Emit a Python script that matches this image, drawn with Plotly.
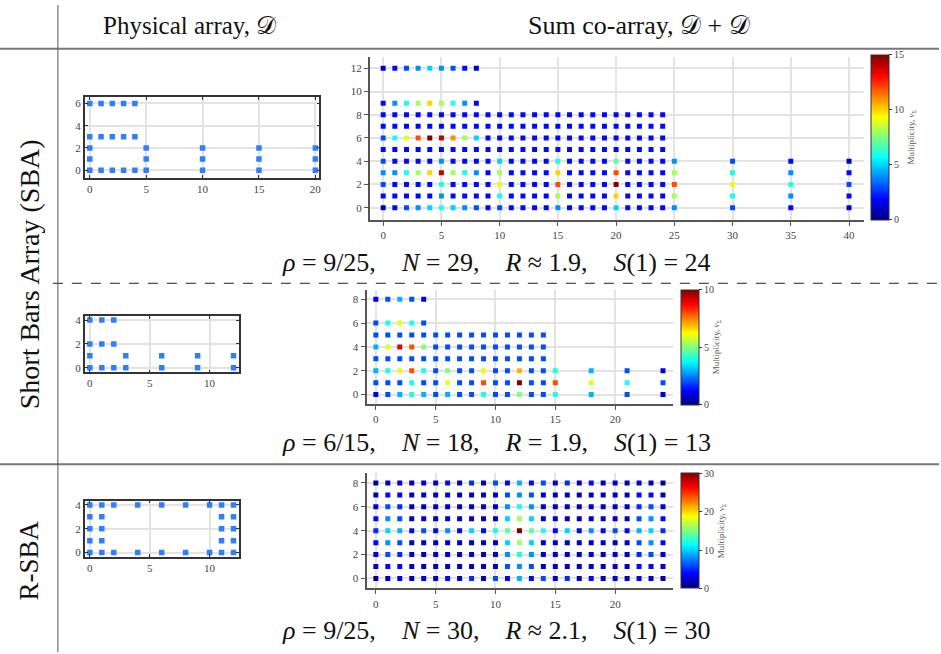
import plotly.graph_objects as go

W, H = 941, 654

# ---------------- Physical arrays (row y -> x positions) ----------------
SBA_PHYS = {0: [0, 1, 2, 3, 4, 5, 10, 15, 20], 1: [0, 5, 10, 15, 20], 2: [0, 5, 10, 15, 20],
            3: [0, 1, 2, 3, 4], 6: [0, 1, 2, 3, 4]}
SBA2_PHYS = {0: [0, 1, 2, 3, 6, 9, 12], 1: [0, 3, 6, 9, 12], 2: [0, 1, 2], 4: [0, 1, 2]}
RSBA_PHYS = {0: [0, 1, 2, 4, 6, 8, 10, 11, 12], 1: [0, 1, 11, 12], 2: [0, 1, 11, 12],
             3: [0, 1, 11, 12], 4: [0, 1, 2, 4, 6, 8, 10, 11, 12]}

# ---------------- Sum co-array multiplicities, MULT[y][x] (0 = not present) ----------------
SBA_MULT = [
    [1, 2, 3, 4, 5, 6, 5, 4, 3, 2, 3, 2, 2, 2, 2, 4, 2, 2, 2, 2, 5, 2, 2, 2, 2, 4, 0, 0, 0, 0, 3, 0, 0, 0, 0, 2, 0, 0, 0, 0, 1],
    [2, 2, 2, 2, 2, 4, 2, 2, 2, 2, 6, 2, 2, 2, 2, 8, 2, 2, 2, 2, 10, 2, 2, 2, 2, 8, 0, 0, 0, 0, 6, 0, 0, 0, 0, 4, 0, 0, 0, 0, 2],
    [3, 2, 2, 2, 2, 6, 2, 2, 2, 2, 9, 2, 2, 2, 2, 12, 2, 2, 2, 2, 15, 2, 2, 2, 2, 12, 0, 0, 0, 0, 9, 0, 0, 0, 0, 6, 0, 0, 0, 0, 3],
    [4, 4, 6, 8, 10, 14, 8, 6, 4, 2, 8, 2, 2, 2, 2, 10, 2, 2, 2, 2, 12, 2, 2, 2, 2, 8, 0, 0, 0, 0, 6, 0, 0, 0, 0, 4, 0, 0, 0, 0, 2],
    [3, 2, 2, 2, 2, 4, 2, 2, 2, 2, 5, 2, 2, 2, 2, 6, 2, 2, 2, 2, 7, 2, 2, 2, 2, 4, 0, 0, 0, 0, 3, 0, 0, 0, 0, 2, 0, 0, 0, 0, 1],
    [2, 2, 2, 2, 2, 2, 2, 2, 2, 2, 2, 2, 2, 2, 2, 2, 2, 2, 2, 2, 2, 2, 2, 2, 2, 0, 0, 0, 0, 0, 0, 0, 0, 0, 0, 0, 0, 0, 0, 0, 0],
    [3, 6, 9, 12, 15, 14, 11, 8, 5, 2, 2, 2, 2, 2, 2, 2, 2, 2, 2, 2, 2, 2, 2, 2, 2, 0, 0, 0, 0, 0, 0, 0, 0, 0, 0, 0, 0, 0, 0, 0, 0],
    [2, 2, 2, 2, 2, 2, 2, 2, 2, 2, 2, 2, 2, 2, 2, 2, 2, 2, 2, 2, 2, 2, 2, 2, 2, 0, 0, 0, 0, 0, 0, 0, 0, 0, 0, 0, 0, 0, 0, 0, 0],
    [2, 2, 2, 2, 2, 2, 2, 2, 2, 2, 2, 2, 2, 2, 2, 2, 2, 2, 2, 2, 2, 2, 2, 2, 2, 0, 0, 0, 0, 0, 0, 0, 0, 0, 0, 0, 0, 0, 0, 0, 0],
    [2, 4, 6, 8, 10, 8, 6, 4, 2, 0, 0, 0, 0, 0, 0, 0, 0, 0, 0, 0, 0, 0, 0, 0, 0, 0, 0, 0, 0, 0, 0, 0, 0, 0, 0, 0, 0, 0, 0, 0, 0],
    [0, 0, 0, 0, 0, 0, 0, 0, 0, 0, 0, 0, 0, 0, 0, 0, 0, 0, 0, 0, 0, 0, 0, 0, 0, 0, 0, 0, 0, 0, 0, 0, 0, 0, 0, 0, 0, 0, 0, 0, 0],
    [0, 0, 0, 0, 0, 0, 0, 0, 0, 0, 0, 0, 0, 0, 0, 0, 0, 0, 0, 0, 0, 0, 0, 0, 0, 0, 0, 0, 0, 0, 0, 0, 0, 0, 0, 0, 0, 0, 0, 0, 0],
    [1, 2, 3, 4, 5, 4, 3, 2, 1, 0, 0, 0, 0, 0, 0, 0, 0, 0, 0, 0, 0, 0, 0, 0, 0, 0, 0, 0, 0, 0, 0, 0, 0, 0, 0, 0, 0, 0, 0, 0, 0],
]
SBA2_MULT = [
    [1, 2, 3, 4, 3, 2, 3, 2, 2, 4, 2, 2, 5, 2, 2, 4, 0, 0, 3, 0, 0, 2, 0, 0, 1],
    [2, 2, 2, 4, 2, 2, 6, 2, 2, 8, 2, 2, 10, 2, 2, 8, 0, 0, 6, 0, 0, 4, 0, 0, 2],
    [3, 4, 6, 8, 4, 2, 5, 2, 2, 6, 2, 2, 7, 2, 2, 4, 0, 0, 3, 0, 0, 2, 0, 0, 1],
    [2, 2, 2, 2, 2, 2, 2, 2, 2, 2, 2, 2, 2, 2, 2, 0, 0, 0, 0, 0, 0, 0, 0, 0, 0],
    [3, 6, 9, 8, 5, 2, 2, 2, 2, 2, 2, 2, 2, 2, 2, 0, 0, 0, 0, 0, 0, 0, 0, 0, 0],
    [2, 2, 2, 2, 2, 2, 2, 2, 2, 2, 2, 2, 2, 2, 2, 0, 0, 0, 0, 0, 0, 0, 0, 0, 0],
    [2, 4, 6, 4, 2, 0, 0, 0, 0, 0, 0, 0, 0, 0, 0, 0, 0, 0, 0, 0, 0, 0, 0, 0, 0],
    [0, 0, 0, 0, 0, 0, 0, 0, 0, 0, 0, 0, 0, 0, 0, 0, 0, 0, 0, 0, 0, 0, 0, 0, 0],
    [1, 2, 3, 2, 1, 0, 0, 0, 0, 0, 0, 0, 0, 0, 0, 0, 0, 0, 0, 0, 0, 0, 0, 0, 0],
]
RSBA_MULT = [
    [1, 2, 3, 2, 3, 2, 4, 2, 5, 2, 6, 4, 9, 4, 6, 2, 5, 2, 4, 2, 3, 2, 3, 2, 1],
    [2, 4, 4, 2, 2, 2, 2, 2, 2, 2, 2, 6, 8, 6, 2, 2, 2, 2, 2, 2, 2, 2, 4, 4, 2],
    [3, 6, 5, 2, 2, 2, 2, 2, 2, 2, 2, 8, 12, 8, 2, 2, 2, 2, 2, 2, 2, 2, 5, 6, 3],
    [4, 8, 6, 2, 2, 2, 2, 2, 2, 2, 2, 10, 16, 10, 2, 2, 2, 2, 2, 2, 2, 2, 6, 8, 4],
    [5, 10, 9, 4, 6, 4, 8, 4, 10, 4, 12, 14, 30, 14, 12, 4, 10, 4, 8, 4, 6, 4, 9, 10, 5],
    [4, 8, 6, 2, 2, 2, 2, 2, 2, 2, 2, 10, 16, 10, 2, 2, 2, 2, 2, 2, 2, 2, 6, 8, 4],
    [3, 6, 5, 2, 2, 2, 2, 2, 2, 2, 2, 8, 12, 8, 2, 2, 2, 2, 2, 2, 2, 2, 5, 6, 3],
    [2, 4, 4, 2, 2, 2, 2, 2, 2, 2, 2, 6, 8, 6, 2, 2, 2, 2, 2, 2, 2, 2, 4, 4, 2],
    [1, 2, 3, 2, 3, 2, 4, 2, 5, 2, 6, 4, 9, 4, 6, 2, 5, 2, 4, 2, 3, 2, 3, 2, 1],
]

# ---------------- Text ----------------
HEADERS = ['Physical array, 𝒟', 'Sum co-array, 𝒟 + 𝒟']
ROW_LABELS = ['Short Bars Array (SBA)', 'R-SBA']
NB4 = '\u00a0' * 4
CAPTIONS = [
    f'<i>ρ</i> = 9/25,{NB4}<i>N</i> = 29,{NB4}<i>R</i> ≈ 1.9,{NB4}<i>S</i>(1) = 24',
    f'<i>ρ</i> = 6/15,{NB4}<i>N</i> = 18,{NB4}<i>R</i> = 1.9,{NB4}<i>S</i>(1) = 13',
    f'<i>ρ</i> = 9/25,{NB4}<i>N</i> = 30,{NB4}<i>R</i> ≈ 2.1,{NB4}<i>S</i>(1) = 30',
]
CB_TITLE = 'Multiplicity, <i>v</i><sub>Σ</sub>'

JET = [[0, 'rgb(0,0,128)'], [0.125, 'rgb(0,0,255)'], [0.375, 'rgb(0,255,255)'],
       [0.625, 'rgb(255,255,0)'], [0.875, 'rgb(255,0,0)'], [1, 'rgb(128,0,0)']]

SERIF = "Liberation Serif, DejaVu Serif, serif"
TICKFONT = dict(family=SERIF, size=11, color="#444")
PHYS_COLOR = "#2f7ff8"

fig = go.Figure()


def dom_x(a, b):
    return [a / W, b / W]


def dom_y(top, bot):
    return [1 - bot / H, 1 - top / H]


specs = [
    # data, kind, x px, y px, xrange, yrange, xticks, yticks, cmax, cbtickstep, colorbar px (left, top, bottom)
    (SBA_PHYS, 'phys', (85, 320), (96, 177), (-0.44, 20.35), (-0.69, 6.54), [0, 5, 10, 15, 20], [0, 2, 4, 6], None, None, None),
    (SBA_MULT, 'co', (370.7, 866), (55, 219), (-1.14, 41.3), (-1.03, 13.0), [0, 5, 10, 15, 20, 25, 30, 35, 40], [0, 2, 4, 6, 8, 10, 12], 15, 5, (873, 53, 219)),
    (SBA2_PHYS, 'phys', (85, 239.3), (315.7, 372.7), (-0.42, 12.44), (-0.39, 4.36), [0, 5, 10], [0, 2, 4], None, None, None),
    (SBA2_MULT, 'co', (367.3, 674), (290, 404), (-0.78, 24.8), (-0.75, 8.75), [0, 5, 10, 15, 20], [0, 2, 4, 6, 8], 10, 5, (682.3, 289.3, 405)),
    (RSBA_PHYS, 'phys', (85, 239.3), (501.7, 558.3), (-0.42, 12.44), (-0.36, 4.36), [0, 5, 10], [0, 2, 4], None, None, None),
    (RSBA_MULT, 'co', (367.3, 674), (474.3, 590), (-0.78, 24.8), (-0.83, 8.8), [0, 5, 10, 15, 20], [0, 2, 4, 6, 8], 30, 10, (682.3, 474.3, 590)),
]

axes = {}
for i, (data, kind, xd, yd, xr, yr, xt, yt, cmax, cstep, cb) in enumerate(specs, start=1):
    xa = 'x' if i == 1 else f'x{i}'
    ya = 'y' if i == 1 else f'y{i}'
    if kind == 'phys':
        xs, ys = [], []
        for y, row in data.items():
            for x in row:
                xs.append(x)
                ys.append(y)
        fig.add_trace(go.Scatter(x=xs, y=ys, mode='markers',
                                 marker=dict(symbol='square', size=5.5, color=PHYS_COLOR, line=dict(width=0)),
                                 xaxis=xa, yaxis=ya, showlegend=False, hoverinfo='skip'))
        st = dict(showline=True, linecolor='#333', linewidth=1.5, mirror='ticks', ticks='inside',
                  ticklen=3, tickcolor='#333')
    else:
        xs, ys, cs = [], [], []
        for y, row in enumerate(data):
            for x, m in enumerate(row):
                if m > 0:
                    xs.append(x)
                    ys.append(y)
                    cs.append(m)
        cbl, cbt, cbb = cb
        fig.add_trace(go.Scatter(
            x=xs, y=ys, mode='markers', xaxis=xa, yaxis=ya, showlegend=False, hoverinfo='skip',
            marker=dict(symbol='square', size=5, color=cs, colorscale=JET, cmin=0, cmax=cmax,
                        line=dict(width=0), showscale=True,
                        colorbar=dict(x=cbl / W, xanchor='left', thickness=18,
                                      y=1 - (cbt + cbb) / 2 / H, yanchor='middle',
                                      len=(cbb - cbt) / H, lenmode='fraction',
                                      xpad=0, ypad=0, outlinewidth=1, outlinecolor='#333',
                                      tickvals=list(range(0, cmax + 1, cstep)),
                                      ticks='outside', ticklen=3, tickcolor='#333',
                                      tickfont=dict(family=SERIF, size=10, color='#444'),
                                      title=dict(text=CB_TITLE, side='right',
                                                 font=dict(family=SERIF, size=9, color='#555'))))))
        st = dict(showline=True, linecolor='#555', linewidth=2, mirror=False, ticks='outside',
                  ticklen=4, tickcolor='#555')
    kx = 'xaxis' if i == 1 else f'xaxis{i}'
    ky = 'yaxis' if i == 1 else f'yaxis{i}'
    axes[kx] = dict(domain=dom_x(*xd), range=list(xr), tickvals=xt, anchor=ya, showgrid=True,
                    gridcolor='#e3e3e3', gridwidth=1.5, zeroline=False, tickfont=TICKFONT, **st)
    axes[ky] = dict(domain=dom_y(*yd), range=list(yr), tickvals=yt, anchor=xa, showgrid=True,
                    gridcolor='#e3e3e3', gridwidth=1.5, zeroline=False, tickfont=TICKFONT, **st)

fig.update_layout(width=W, height=H, autosize=False, margin=dict(l=0, r=0, t=0, b=0),
                  paper_bgcolor='white', plot_bgcolor='white', **axes)


def hline(ypx, x0px, x1px, color, width, dash='solid'):
    return dict(type='line', xref='paper', yref='paper', x0=x0px / W, x1=x1px / W,
                y0=1 - ypx / H, y1=1 - ypx / H, line=dict(color=color, width=width, dash=dash))


shapes = [
    hline(47, 0, W, '#777', 2),
    hline(465, 0, W, '#777', 2),
    hline(283, 53, W, '#222', 1, '10px,9px'),
    dict(type='line', xref='paper', yref='paper', x0=58 / W, x1=58 / W, y0=0, y1=1 - 3 / H,
         line=dict(color='#555', width=1)),
]


def ann(text, x, y, size, angle=0):
    return dict(text=text, xref='paper', yref='paper', x=x / W, y=1 - y / H, xanchor='center',
                yanchor='middle', showarrow=False, textangle=angle,
                font=dict(family=SERIF, size=size, color='#111'))


annots = [
    ann(HEADERS[0], 190, 24, 25),
    ann(HEADERS[1], 640, 24, 26),
    ann(ROW_LABELS[0], 29, 274, 28, -90),
    ann(ROW_LABELS[1], 29, 562, 27, -90),
    ann(CAPTIONS[0], 498, 262, 26),
    ann(CAPTIONS[1], 498, 443, 26),
    ann(CAPTIONS[2], 498, 632, 26),
]
fig.update_layout(shapes=shapes, annotations=annots)

fig.write_html("out.html")
